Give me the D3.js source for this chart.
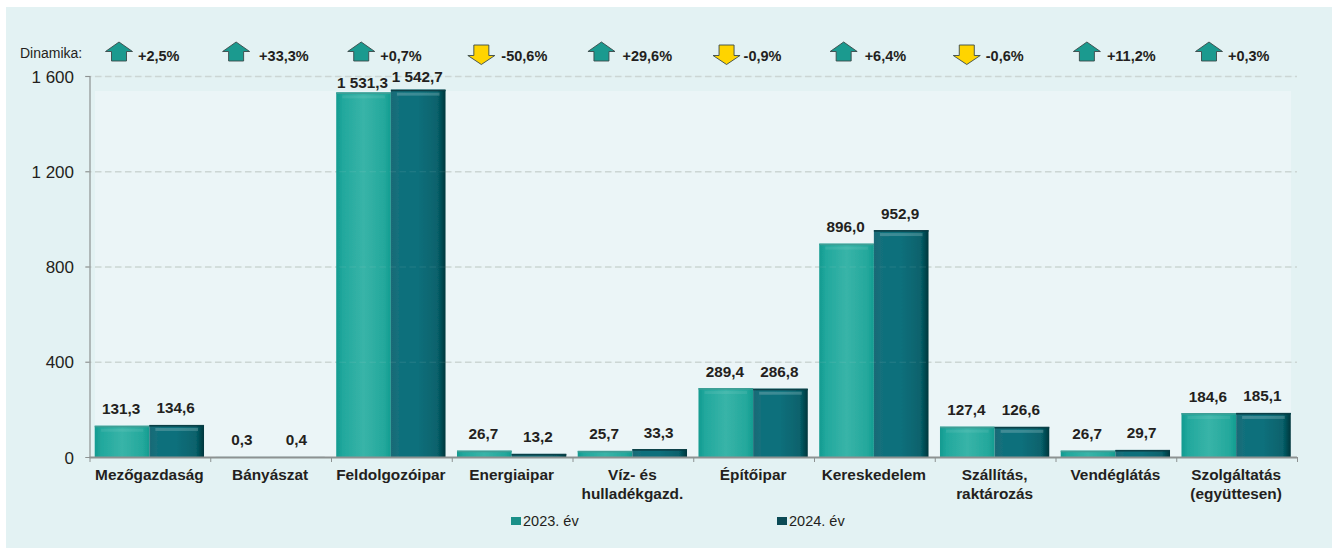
<!DOCTYPE html>
<html lang="hu"><head><meta charset="utf-8">
<script src="https://cdn.jsdelivr.net/npm/d3@7"></script>
<style>
html,body{margin:0;padding:0;background:#fff;overflow:hidden}
svg{display:block}
text{font-family:"Liberation Sans",Arial,sans-serif;fill:#231f20}
</style></head><body>
<svg id="chart" width="1332" height="549"></svg>
<script>
const categories=[["Mezőgazdaság"],["Bányászat"],["Feldolgozóipar"],["Energiaipar"],["Víz- és","hulladékgazd."],["Építőipar"],["Kereskedelem"],["Szállítás,","raktározás"],["Vendéglátás"],["Szolgáltatás","(együttesen)"]];
const series2023=[131.3,0.3,1531.3,26.7,25.7,289.4,896.0,127.4,26.7,184.6];
const series2024=[134.6,0.4,1542.7,13.2,33.3,286.8,952.9,126.6,29.7,185.1];
const dynamics=[2.5,33.3,0.7,-50.6,29.6,-0.9,6.4,-0.6,11.2,0.3];
const yTicks=[0,400,800,1200,1600];
const seriesNames=["2023. év","2024. év"];

const svg=d3.select("#chart");
const W=1332,H=549;
const m={l:89.5,r:1297,t:76,b:457};
const huNum=(v,d)=>{const s=v.toFixed(d).replace(".",",");const [a,b]=s.split(",");const g=a.replace(/\B(?=(\d{3})+$)/g," ");return b?g+","+b:g;};
const sign=v=>(v>0?"+":"-")+huNum(Math.abs(v),1)+"%";

const idx=categories.map((_,i)=>i);
const x=d3.scaleBand().domain(idx).range([m.l-.5,m.r-.5]).paddingInner(0.095).paddingOuter(0.0475);
const xs=d3.scaleBand().domain([0,1]).range([0,x.bandwidth()]);
const y=d3.scaleLinear().domain([0,1600]).range([m.b,m.t]);
const xCenter=i=>x(i)+x.bandwidth()/2;
const dynX=d3.scaleLinear().domain([0,idx.length-1]).range([138,1228]);

const defs=svg.append("defs");
function hgrad(id,stops){const g=defs.append("linearGradient").attr("id",id).attr("x1",0).attr("x2",1).attr("y1",0).attr("y2",0);
  stops.forEach(([o,c])=>g.append("stop").attr("offset",o).attr("stop-color",c));}
hgrad("g23",[[0,"#119a90"],[.12,"#22a89d"],[.5,"#38b4a8"],[.88,"#24a89c"],[1,"#129c90"]]);
hgrad("g24",[[0,"#1c6a76"],[.12,"#126f7b"],[.5,"#0a6f7b"],[.85,"#07626c"],[1,"#03363c"]]);
defs.append("filter").attr("id","soft").append("feGaussianBlur").attr("stdDeviation",0.5);

// panel
svg.append("rect").attr("x",6).attr("y",7).attr("width",W-6).attr("height",541).attr("fill","#e3f2f3");
svg.append("rect").attr("x",95).attr("y",91).attr("width",1196).attr("height",m.b-91).attr("fill","#ebf5f7");

// gridlines under the bars
const gridVals=yTicks.filter(v=>v>0);
svg.append("g").selectAll("line").data(gridVals).join("line")
  .attr("x1",85).attr("x2",m.r).attr("y1",d=>y(d)+.5).attr("y2",d=>y(d)+.5)
  .attr("stroke","#ccd6d4").attr("stroke-width",1.3).attr("stroke-dasharray","6.5 3.5");

// bars
const bars=svg.append("g").attr("filter","url(#soft)");
[series2023,series2024].forEach((vals,s)=>{
  const g=bars.append("g");
  const rows=vals.map((v,i)=>({v,i}));
  g.selectAll("rect.b").data(rows).join("rect").attr("class","b")
    .attr("x",d=>x(d.i)+xs(s)).attr("width",xs.bandwidth())
    .attr("y",d=>y(d.v)).attr("height",d=>m.b-y(d.v))
    .attr("fill",`url(#g${s?24:23})`);
  g.selectAll("rect.e").data(rows.filter(d=>d.v>5)).join("rect").attr("class","e")
    .attr("x",d=>x(d.i)+xs(s)).attr("width",xs.bandwidth())
    .attr("y",d=>y(d.v)).attr("height",1.6).attr("fill",s?"#083f46":"#3f9e95");
  g.selectAll("rect.h").data(rows.filter(d=>d.v>50)).join("rect").attr("class","h")
    .attr("x",d=>x(d.i)+xs(s)+6).attr("width",xs.bandwidth()-12)
    .attr("y",d=>y(d.v)+3).attr("height",3).attr("fill","#fff").attr("opacity",s?.2:.08);
});

// faint gridlines showing through bars
svg.append("g").selectAll("line").data(gridVals).join("line")
  .attr("x1",m.l).attr("x2",m.r).attr("y1",d=>y(d)+.5).attr("y2",d=>y(d)+.5)
  .attr("stroke","#ccd6d4").attr("stroke-width",1).attr("stroke-dasharray","6.5 3.5").attr("opacity",.12);

// axes
const ax=svg.append("g").attr("transform",`translate(${m.l},0)`)
  .call(d3.axisLeft(y).tickValues(yTicks).tickSize(4).tickFormat(d=>huNum(d,0)));
ax.select(".domain").attr("stroke","#8d9292").attr("stroke-width",1.2);
ax.selectAll(".tick line").attr("stroke","#8d9292");
ax.selectAll(".tick text").attr("x",-15.5).attr("dy","0.36em").attr("font-size",17).attr("fill","#333").style("font-family",'"Liberation Sans",Arial,sans-serif');

const bx=svg.append("g").attr("transform",`translate(0,${m.b})`)
  .call(d3.axisBottom(d3.scaleLinear().domain([0,idx.length]).range([m.l,m.r])).tickValues(d3.range(idx.length+1)).tickSize(5).tickFormat(""));
bx.select(".domain").attr("stroke","#8d9292").attr("stroke-width",2.2).attr("d",`M${m.l},0.5H${m.r}`);
bx.selectAll(".tick line").attr("stroke","#8d9292");

// category labels
const catG=svg.append("g").selectAll("text").data(categories).join("text")
  .attr("text-anchor","middle").attr("font-weight","bold").attr("font-size",15.4);
catG.each(function(lines,i){
  d3.select(this).selectAll("tspan").data(lines).join("tspan")
    .attr("x",xCenter(i)).attr("y",(d,k)=>480+k*18.5).text(d=>d);
});

// value labels: lifted above each bar; the two tall bars sit lower under the top edge
const labelLift=(s,i)=>i===2?(s?13:9.5):17;
[series2023,series2024].forEach((vals,s)=>{
  svg.append("g").selectAll("text").data(vals).join("text")
    .attr("x",(d,i)=>x(i)+xs(s)+xs.bandwidth()/2-1)
    .attr("y",(d,i)=>y(d)-labelLift(s,i))
    .attr("dy","0.36em").attr("text-anchor","middle").attr("font-weight","bold").attr("font-size",15.3)
    .text(d=>huNum(d,1));
});

// dynamics row
svg.append("text").attr("x",20).attr("y",58).attr("font-size",14).attr("fill","#333").text("Dinamika:");
const arrowGap=[19,23,19,20,21,17,21,19,20,19];
const up="M0,0L13.5,9.5H7.5V19H-7.5V9.5H-13.5Z";
const down="M-7.5,0H7.5V10.5H13.5L0,19.5L-13.5,10.5H-7.5Z";
const dyn=svg.append("g").selectAll("g").data(dynamics).join("g");
dyn.append("text").attr("x",(d,i)=>dynX(i)).attr("y",60.5).attr("font-weight","bold").attr("font-size",14.5).text(sign);
dyn.append("path")
  .attr("transform",(d,i)=>`translate(${dynX(i)-arrowGap[i]},${d>0?42:45})`)
  .attr("d",d=>d>0?up:down)
  .attr("fill",d=>d>0?"#1b9a8f":"#ffd400")
  .attr("stroke","#3a4a4a").attr("stroke-width",.9).attr("stroke-linejoin","miter");

// legend
const lg=svg.append("g").selectAll("g").data(seriesNames).join("g")
  .attr("transform",(d,i)=>`translate(${d3.scalePoint().domain(seriesNames).range([511,777])(d)},0)`);
lg.append("rect").attr("y",517).attr("width",10).attr("height",8).attr("fill",(d,i)=>i?"#0b4a55":"#1a9088");
lg.append("text").attr("x",12).attr("y",526).attr("font-size",14.5).attr("fill","#333").text(d=>d);
</script>
</body></html>
